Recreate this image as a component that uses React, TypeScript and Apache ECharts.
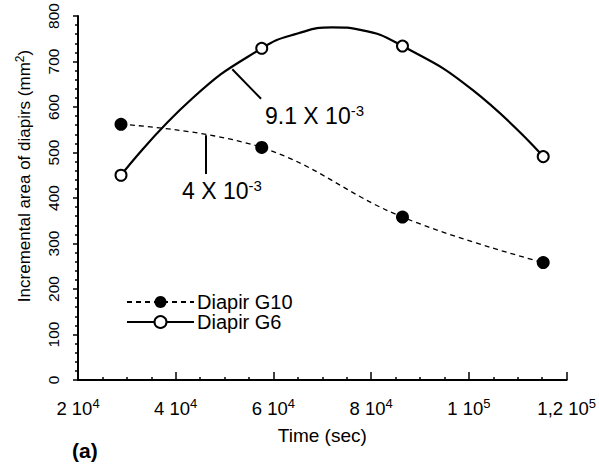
import React, { useEffect, useRef } from "react";
import * as echarts from "echarts";

// Measured points (time in seconds, area in mm²)
const g10X = [28800, 57600, 86400, 115200];
const g10Y = [562, 511, 358, 258];
const g6X = [28800, 57600, 86400, 115200];
const g6Y = [450, 729, 734, 491];
const g6CurveX = [43200, 65100, 72000, 78000, 100800];
const g6CurveY = [617, 762, 775, 769, 637];
// Tick labels
const xTickValues = [20000, 40000, 60000, 80000, 100000, 120000];
const xTickMantissa = ["2", "4", "6", "8", "1", "1,2"];
const xTickExponent = ["4", "4", "4", "4", "5", "5"];
// Rate annotations: [x1, y1, x2, y2]
const annotationLines = [
  [51570, 683, 57460, 618],
  [46160, 538, 46160, 453],
];

const FONT = "'Liberation Sans', Arial, Helvetica, sans-serif";

export default function App() {
  const ref = useRef<HTMLDivElement>(null);
  useEffect(() => {
    document.body.style.margin = "0";
    const chart = echarts.init(ref.current!, null, { renderer: "svg" });

    const g6Data: any[] = [];
    g6X.forEach((x, i) => g6Data.push({ value: [x, g6Y[i]] }));
    g6CurveX.forEach((x, i) => g6Data.push({ value: [x, g6CurveY[i]], symbol: "none" }));
    g6Data.sort((a, b) => a.value[0] - b.value[0]);

    const g10Data = g10X.map((x, i) => [x, g10Y[i]]);

    const supRich = (main: number, sup: number, lh: number) => ({
      a: { fontSize: main, fontFamily: FONT, color: "#000", fill: "#000", lineHeight: lh },
      b: { fontSize: sup, fontFamily: FONT, color: "#000", fill: "#000", verticalAlign: "top", lineHeight: lh },
    });

    chart.setOption({
      animation: false,
      backgroundColor: "#fff",
      textStyle: { fontFamily: FONT, color: "#000" },
      grid: { left: 78, right: 29, top: 16, bottom: 87 },
      legend: {
        orient: "vertical",
        left: 126,
        top: 292,
        padding: 0,
        itemWidth: 67,
        itemHeight: 15,
        itemGap: 0,
        data: ["Diapir G10", "Diapir G6"],
        textStyle: { fontSize: 20, color: "#000", fontFamily: FONT, lineHeight: 19.5, padding: [0, 0, 0, -2] },
      },
      xAxis: {
        type: "value",
        min: 20000,
        max: 120000,
        interval: 20000,
        name: "Time (sec)",
        nameLocation: "middle",
        nameGap: 46,
        nameTextStyle: { fontSize: 19, color: "#000", fontFamily: FONT },
        axisLine: { lineStyle: { color: "#000", width: 2 } },
        axisTick: { inside: true, length: 8, lineStyle: { color: "#000", width: 1.5 } },
        minorTick: { show: true, splitNumber: 4, length: 3, lineStyle: { color: "#000", width: 1.5 } },
        splitLine: { show: false },
        axisLabel: {
          margin: 17,
          color: "#000",
          fontSize: 19,
          formatter: (v: number) => {
            const i = xTickValues.indexOf(v);
            if (i < 0) return "";
            return "{a|" + xTickMantissa[i] + " 10}{b|" + xTickExponent[i] + "}";
          },
          rich: supRich(18.5, 13, 22),
        },
      },
      yAxis: {
        type: "value",
        min: 0,
        max: 800,
        interval: 100,
        axisLine: { show: true, lineStyle: { color: "#000", width: 2 } },
        axisTick: { show: true, length: 5, lineStyle: { color: "#000", width: 1.5 } },
        minorTick: { show: true, splitNumber: 5, length: 3, lineStyle: { color: "#000", width: 1.5 } },
        splitLine: { show: false },
        axisLabel: { rotate: 90, margin: 17, fontSize: 15.5, color: "#000", fontFamily: FONT },
      },
      series: [
        {
          name: "Diapir G10",
          type: "line",
          data: g10Data,
          smooth: 0.4,
          symbol: "circle",
          symbolSize: 13,
          itemStyle: { color: "#000" },
          lineStyle: { color: "#000", width: 1.3, type: [5, 4] },
          z: 3,
          markLine: {
            silent: true,
            symbol: ["none", "none"],
            label: { show: false },
            lineStyle: { color: "#000", width: 2, type: "solid" },
            data: annotationLines.map((l) => [
              { coord: [l[0], l[1]] },
              { coord: [l[2], l[3]] },
            ]),
          },
        },
        {
          name: "Diapir G6",
          type: "line",
          data: g6Data,
          smooth: 0.5,
          symbol: "emptyCircle",
          symbolSize: 11,
          itemStyle: { color: "#000", borderColor: "#000", borderWidth: 1.6 },
          lineStyle: { color: "#000", width: 2.2 },
          z: 4,
        },
      ],
      graphic: [
        {
          type: "text",
          x: 24,
          y: 176,
          rotation: Math.PI / 2,
          style: {
            text: "{a|Incremental area of diapirs (mm}{b|2}{a|)}",
            align: "center",
            verticalAlign: "middle",
            rich: supRich(17, 12, 20),
          },
        },
        {
          type: "text",
          left: 265,
          top: 103,
          style: {
            text: "{a|9.1 X 10}{b|-3}",
            rich: supRich(23, 15, 26),
          },
        },
        {
          type: "text",
          left: 182,
          top: 178,
          style: {
            text: "{a|4 X 10}{b|-3}",
            rich: supRich(23, 15, 26),
          },
        },
        {
          type: "text",
          left: 72,
          top: 440,
          style: { text: "(a)", fontSize: 21, fontWeight: "bold", fontFamily: FONT, fill: "#000" },
        },
      ],
    });
    return () => chart.dispose();
  }, []);
  return (
    <div
      ref={ref}
      style={{ position: "absolute", left: 0, top: 0, width: 599, height: 467 }}
    />
  );
}
